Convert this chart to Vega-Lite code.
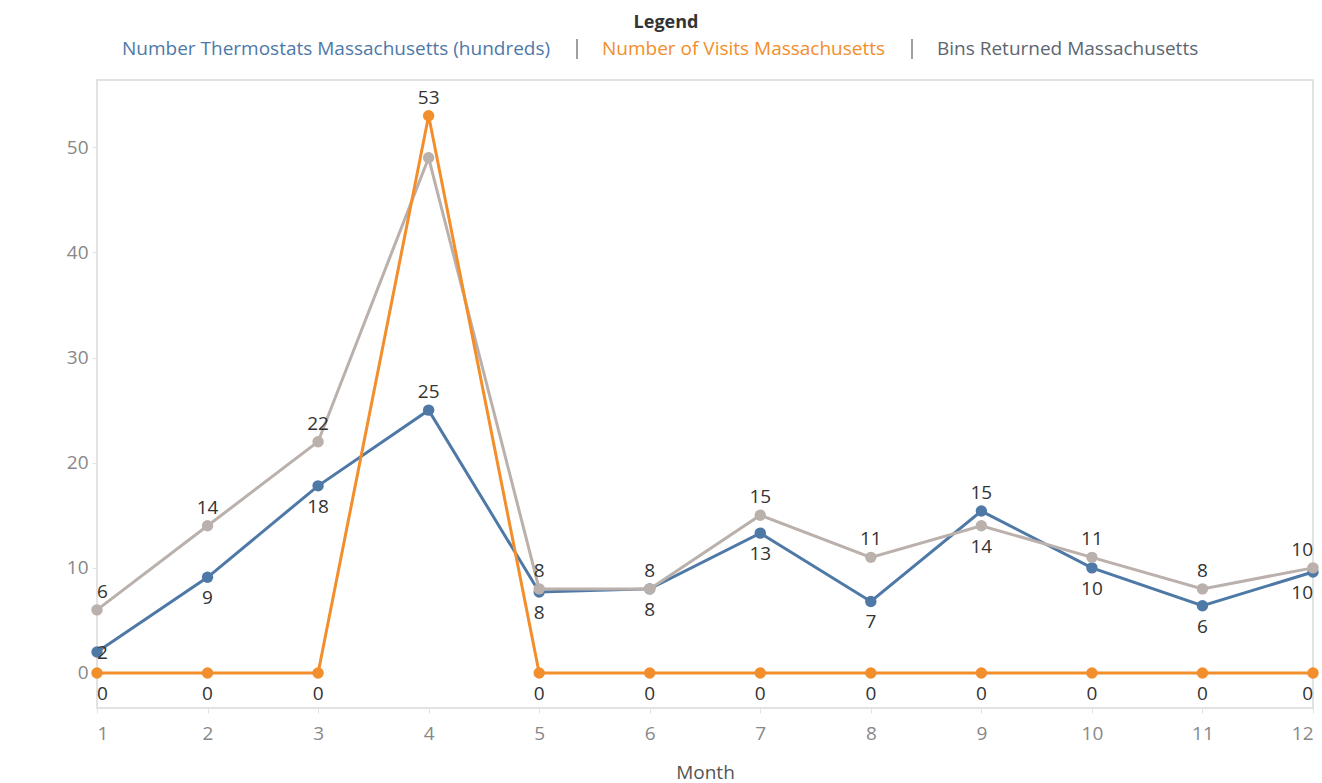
{
  "$schema": "https://vega.github.io/schema/vega-lite/v6.json",
  "width": 1216,
  "height": 628,
  "autosize": {"type": "none"},
  "padding": {"left": 97, "top": 80, "right": 9, "bottom": 75},
  "background": "white",
  "config": {
    "font": "Open Sans",
    "view": {"stroke": "#d9d9d9", "strokeWidth": 1.5},
    "axis": {"grid": false, "domain": false, "tickColor": "#e3e3e3", "tickSize": 5, "labelColor": "#888888", "labelFontSize": 19, "labelFont": "Open Sans", "titleFont": "Open Sans"}
  },
  "data": {
    "values": [
      {"month": 1, "thermostats": 2.0, "visits": 0, "bins": 6.0},
      {"month": 2, "thermostats": 9.1, "visits": 0, "bins": 14.0},
      {"month": 3, "thermostats": 17.8, "visits": 0, "bins": 22.0},
      {"month": 4, "thermostats": 25.0, "visits": 53, "bins": 49.0},
      {"month": 5, "thermostats": 7.7, "visits": 0, "bins": 8.0},
      {"month": 6, "thermostats": 8.0, "visits": 0, "bins": 8.0},
      {"month": 7, "thermostats": 13.3, "visits": 0, "bins": 15.0},
      {"month": 8, "thermostats": 6.8, "visits": 0, "bins": 11.0},
      {"month": 9, "thermostats": 15.4, "visits": 0, "bins": 14.0},
      {"month": 10, "thermostats": 10.0, "visits": 0, "bins": 11.0},
      {"month": 11, "thermostats": 6.4, "visits": 0, "bins": 8.0},
      {"month": 12, "thermostats": 9.6, "visits": 0, "bins": 10.0}
    ]
  },
  "encoding": {
    "x": {
      "field": "month", "type": "quantitative",
      "scale": {"domain": [1, 12], "nice": false, "zero": false},
      "axis": {"values": [1,2,3,4,5,6,7,8,9,10,11,12], "title": "Month", "titleFontWeight": "normal", "titleColor": "#555555", "titleFontSize": 19, "labelPadding": 11, "titlePadding": 20, "labelFlush": true}
    },
    "y": {
      "field": "value", "type": "quantitative",
      "scale": {"domain": [-3.33, 56.4], "nice": false, "zero": false},
      "axis": {"values": [0,10,20,30,40,50], "title": null, "labelPadding": 4}
    }
  },
  "layer": [
    {
      "transform": [{"fold": ["thermostats", "visits", "bins"], "as": ["series", "value"]}],
      "mark": {"type": "point", "filled": true, "opacity": 0},
      "encoding": {
        "fill": {
          "field": "series", "type": "nominal",
          "scale": {"domain": ["thermostats", "visits", "bins"], "range": ["#777777", "#777777", "#777777"]},
          "legend": {
            "orient": "none", "legendX": -10, "legendY": -66, "direction": "horizontal",
            "title": "Legend", "titleAnchor": "middle", "titleFontSize": 18, "titleFontWeight": "bold", "titleColor": "#333333", "titlePadding": 7,
            "labelExpr": "datum.value === 'thermostats' ? 'Number Thermostats Massachusetts (hundreds)' : datum.value === 'visits' ? 'Number of Visits Massachusetts' : 'Bins Returned Massachusetts'",
            "labelFontSize": 19, "labelLimit": 1000, "labelOffset": 15, "columnPadding": 16,
            "symbolType": "M-0.07,-1H0.07V1H-0.07Z", "symbolSize": 400, "symbolStrokeWidth": 0, "symbolOpacity": 1,
            "encode": {
              "title": {"update": {"dx": {"value": 23}}},
              "symbols": {"update": {"opacity": {"signal": "datum.index > 0 ? 1 : 0"}}},
              "labels": {"update": {"fill": {"signal": "datum.value === 'bins' ? '#5d6670' : scale('color', datum.value)"}}}
            }
          }
        }
      }
    },
    {
      "transform": [{"fold": ["thermostats"], "as": ["series", "value"]}],
      "mark": {"type": "line", "strokeWidth": 3, "point": {"filled": true, "size": 130}},
      "encoding": {
        "color": {
          "field": "series", "type": "nominal",
          "scale": {"domain": ["thermostats", "visits", "bins"], "range": ["#4e79a7", "#f28e2b", "#bab0ac"]},
          "legend": null
        }
      }
    },
    {
      "transform": [{"fold": ["bins"], "as": ["series", "value"]}],
      "mark": {"type": "line", "strokeWidth": 3, "point": {"filled": true, "size": 130}},
      "encoding": {"color": {"field": "series", "type": "nominal", "legend": null}}
    },
    {
      "transform": [{"fold": ["visits"], "as": ["series", "value"]}],
      "mark": {"type": "line", "strokeWidth": 3, "point": {"filled": true, "size": 130}},
      "encoding": {"color": {"field": "series", "type": "nominal", "legend": null}}
    },
    {
      "transform": [{"fold": ["thermostats"], "as": ["series", "value"]}, {"filter": "datum.thermostats > datum.bins || datum.visits > datum.bins"}],
      "mark": {"type": "text", "dy": -18, "fontSize": 19, "color": "#333333", "align": {"expr": "datum.month >= 12 ? 'right' : datum.month <= 1 ? 'left' : 'center'"}},
      "encoding": {"text": {"field": "value", "type": "quantitative", "format": ".0f"}}
    },
    {
      "transform": [{"fold": ["thermostats"], "as": ["series", "value"]}, {"filter": "!(datum.thermostats > datum.bins || datum.visits > datum.bins) && datum.thermostats - datum.visits >= 3.5"}],
      "mark": {"type": "text", "dy": 21, "fontSize": 19, "color": "#333333", "align": {"expr": "datum.month >= 12 ? 'right' : datum.month <= 1 ? 'left' : 'center'"}},
      "encoding": {"text": {"field": "value", "type": "quantitative", "format": ".0f"}}
    },
    {
      "transform": [{"fold": ["thermostats"], "as": ["series", "value"]}, {"filter": "!(datum.thermostats > datum.bins || datum.visits > datum.bins) && datum.thermostats - datum.visits < 3.5"}],
      "mark": {"type": "text", "dy": 1, "fontSize": 19, "color": "#333333", "align": {"expr": "datum.month >= 12 ? 'right' : datum.month <= 1 ? 'left' : 'center'"}},
      "encoding": {"text": {"field": "value", "type": "quantitative", "format": ".0f"}}
    },
    {
      "transform": [{"fold": ["bins"], "as": ["series", "value"]}, {"filter": "datum.bins >= datum.thermostats && datum.visits <= datum.bins"}],
      "mark": {"type": "text", "dy": -18, "fontSize": 19, "color": "#333333", "align": {"expr": "datum.month >= 12 ? 'right' : datum.month <= 1 ? 'left' : 'center'"}},
      "encoding": {"text": {"field": "value", "type": "quantitative", "format": ".0f"}}
    },
    {
      "transform": [{"fold": ["bins"], "as": ["series", "value"]}, {"filter": "datum.bins < datum.thermostats"}],
      "mark": {"type": "text", "dy": 21, "fontSize": 19, "color": "#333333", "align": {"expr": "datum.month >= 12 ? 'right' : datum.month <= 1 ? 'left' : 'center'"}},
      "encoding": {"text": {"field": "value", "type": "quantitative", "format": ".0f"}}
    },
    {
      "transform": [{"fold": ["visits"], "as": ["series", "value"]}, {"filter": "datum.visits > datum.bins"}],
      "mark": {"type": "text", "dy": -18, "fontSize": 19, "color": "#333333", "align": {"expr": "datum.month >= 12 ? 'right' : datum.month <= 1 ? 'left' : 'center'"}},
      "encoding": {"text": {"field": "value", "type": "quantitative", "format": ".0f"}}
    },
    {
      "transform": [{"fold": ["visits"], "as": ["series", "value"]}, {"filter": "datum.visits <= datum.bins"}],
      "mark": {"type": "text", "dy": 21, "fontSize": 19, "color": "#333333", "align": {"expr": "datum.month >= 12 ? 'right' : datum.month <= 1 ? 'left' : 'center'"}},
      "encoding": {"text": {"field": "value", "type": "quantitative", "format": ".0f"}}
    }
  ]
}
